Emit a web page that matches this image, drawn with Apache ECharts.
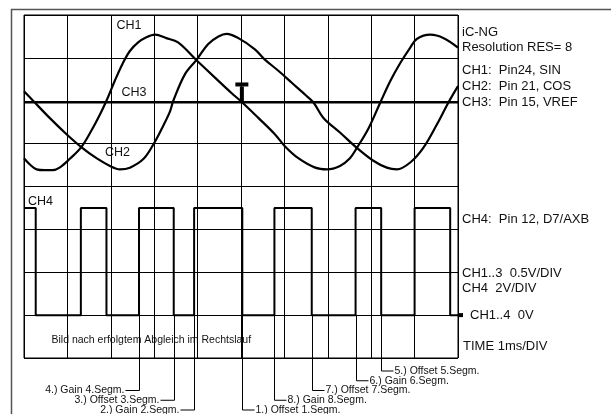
<!DOCTYPE html>
<html>
<head>
<meta charset="utf-8">
<script src="https://cdn.jsdelivr.net/npm/echarts@6/dist/echarts.min.js"></script>
<style>
  html, body { margin: 0; padding: 0; background: #fff; }
  #scope { width: 611px; height: 414px; }
</style>
</head>
<body>
<div id="scope"></div>
<script>
// Time base: ms (1 ms/DIV). CH1..CH3 in volts (0.5 V/DIV), CH4 in volts (2 V/DIV).
const ch1Time = [0.00, 0.13, 0.29, 0.48, 0.66, 0.82, 1.05, 1.32, 1.55, 1.75, 1.90, 2.09, 2.28, 2.44, 2.63, 2.82, 3.02, 3.28, 3.55, 3.98, 4.40, 4.78, 5.03, 5.40, 5.78, 6.01, 6.32, 6.71, 6.98, 7.28, 7.51, 7.67, 7.94, 8.21, 8.44, 8.67, 8.90, 9.05, 9.36, 9.67, 10.00];
const ch1Volt = [1.83, 1.76, 1.70, 1.69, 1.69, 1.72, 1.82, 1.96, 2.15, 2.34, 2.50, 2.73, 2.94, 3.08, 3.18, 3.24, 3.27, 3.23, 3.18, 2.97, 2.77, 2.59, 2.48, 2.30, 2.11, 1.97, 1.83, 1.72, 1.70, 1.74, 1.83, 1.95, 2.18, 2.48, 2.73, 2.94, 3.12, 3.22, 3.27, 3.23, 3.12];

const ch2Time = [0.00, 0.21, 0.59, 0.98, 1.32, 1.67, 1.98, 2.21, 2.44, 2.75, 2.98, 3.17, 3.36, 3.44, 3.71, 3.98, 4.24, 4.48, 4.67, 4.94, 5.32, 5.55, 5.86, 6.17, 6.48, 6.67, 6.90, 7.28, 7.67, 8.05, 8.36, 8.59, 8.90, 9.20, 9.51, 9.78, 10.00];
const ch2Volt = [2.61, 2.50, 2.30, 2.11, 1.96, 1.83, 1.74, 1.70, 1.72, 1.82, 1.99, 2.17, 2.37, 2.50, 2.81, 2.98, 3.16, 3.25, 3.28, 3.23, 3.10, 2.98, 2.85, 2.71, 2.57, 2.48, 2.30, 2.13, 1.95, 1.80, 1.72, 1.70, 1.78, 1.95, 2.22, 2.48, 2.67];

const ch3Time = [0.00, 2.50, 5.00, 7.50, 10.00];
const ch3Volt = [2.48, 2.48, 2.48, 2.48, 2.48];

// CH4 digital output: switching instants (ms), starting high
const ch4Edges = [0.27, 1.31, 1.90, 2.65, 3.45, 3.92, 5.03, 5.77, 6.63, 7.64, 8.23, 9.00, 9.82];
const ch4High = 5.0;
const ch4Low = 0.0;

// Trigger point (time, level of CH1..3)
const trigger = [5.02, 2.48];

// Segment calibration notes attached to CH4 edges (edge index -> text)
const segEdge  = [3, 4, 5, 6, 7, 8, 9, 10];
const segText  = ['4.) Gain 4.Segm.', '3.) Offset 3.Segm.', '2.) Gain 2.Segm.', '1.) Offset 1.Segm.',
                  '8.) Gain 8.Segm.', '7.) Offset 7.Segm.', '6.) Gain 6.Segm.', '5.) Offset 5.Segm.'];
const segRow   = [2, 3, 4, 4, 3, 2, 1, 0];
const segSide  = ['left', 'left', 'left', 'right', 'right', 'right', 'right', 'right'];

const infoLines = ['iC-NG', 'Resolution RES= 8', 'CH1:  Pin24, SIN', 'CH2:  Pin 21, COS', 'CH3:  Pin 15, VREF'];
const scaleLines = ['CH4:  Pin 12, D7/AXB', 'CH1..3  0.5V/DIV', 'CH4  2V/DIV'];

const FONT = '"Liberation Sans", Arial, Helvetica, sans-serif';
const CH4_SCALE = 0.5 / 2; // 2 V/DIV drawn on the 0.5 V/DIV scale

function pairs(t, v, k) { return t.map((x, i) => [x, v[i] * (k || 1)]); }

function ch4Data() {
  const pts = [];
  let level = ch4High;
  pts.push([0, level * CH4_SCALE]);
  ch4Edges.forEach(t => {
    pts.push([t, level * CH4_SCALE]);
    level = level === ch4High ? ch4Low : ch4High;
    pts.push([t, level * CH4_SCALE]);
  });
  pts.push([10, level * CH4_SCALE]);
  return pts;
}

const trace = { type: 'line', showSymbol: false, symbol: 'none', silent: true,
                lineStyle: { color: '#000', width: 2.2 } };

const chart = echarts.init(document.getElementById('scope'), null, { renderer: 'canvas' });
chart.setOption({
  animation: false,
  backgroundColor: '#fff',
  grid: { left: 24, top: 15, width: 434, height: 343, show: true, borderColor: '#000', borderWidth: 1 },
  xAxis: {
    type: 'value', min: 0, max: 10, interval: 1,
    axisLine: { show: false }, axisTick: { show: false }, axisLabel: { show: false },
    splitLine: { show: true, lineStyle: { color: '#000', width: 1 } }
  },
  yAxis: {
    type: 'value', min: -0.5, max: 3.5, interval: 0.5,
    axisLine: { show: false }, axisTick: { show: false }, axisLabel: { show: false },
    splitLine: { show: true, lineStyle: { color: '#000', width: 1 } }
  },
  series: [
    Object.assign({}, trace, { name: 'CH1', smooth: 0.35, data: pairs(ch1Time, ch1Volt) }),
    Object.assign({}, trace, { name: 'CH2', smooth: 0.35, data: pairs(ch2Time, ch2Volt) }),
    Object.assign({}, trace, { name: 'CH3', data: pairs(ch3Time, ch3Volt) }),
    Object.assign({}, trace, { name: 'CH4', data: ch4Data(), lineStyle: { color: '#000', width: 2 } })
  ]
});

// Overlay: frame, channel tags, trigger mark, settings and segment notes
const g = [];
const txt = (x, y, s, size, align) => g.push({
  type: 'text', x: x, y: y, silent: true,
  style: { text: s, fill: '#111', font: size + 'px ' + FONT, textAlign: align || 'left', textVerticalAlign: 'middle' }
});

g.push({ type: 'line', silent: true, shape: { x1: 11, y1: 9.5, x2: 611, y2: 9.5 }, style: { stroke: '#555', lineWidth: 1.5 } });
g.push({ type: 'line', silent: true, shape: { x1: 11.5, y1: 9, x2: 11.5, y2: 414 }, style: { stroke: '#555', lineWidth: 1.5 } });

txt(116.5, 25.5, 'CH1', 12.5);
txt(121.5, 93, 'CH3', 12.5);
txt(105, 153, 'CH2', 12.5);
txt(28, 202, 'CH4', 12.5);

const infoY = [32, 47, 70, 86, 102];
infoLines.forEach((s, i) => txt(462, infoY[i], s, 13));
const scaleY = [219, 273.5, 288.5];
scaleLines.forEach((s, i) => txt(462, scaleY[i], s, 13));
txt(470, 315.5, 'CH1..4  0V', 13);
txt(463, 346.5, 'TIME 1ms/DIV', 13);
txt(51.5, 340, 'Bild nach erfolgtem Abgleich im Rechtslauf', 10.5);

// trigger "T"
const tp = chart.convertToPixel({ gridIndex: 0 }, trigger);
g.push({ type: 'rect', silent: true, shape: { x: tp[0] - 2, y: tp[1] - 16, width: 4, height: 16 }, style: { fill: '#000' } });
g.push({ type: 'rect', silent: true, shape: { x: tp[0] - 6.5, y: tp[1] - 20, width: 13, height: 4 }, style: { fill: '#000' } });

// 0 V marker at the right of the screen
const zeroY = chart.convertToPixel({ yAxisIndex: 0 }, ch4Low * CH4_SCALE);
const rightX = chart.convertToPixel({ xAxisIndex: 0 }, 10);
g.push({ type: 'rect', silent: true, shape: { x: rightX + 1, y: zeroY - 2, width: 4, height: 4 }, style: { fill: '#000' } });

// leader lines from CH4 edges to segment notes
const rowY0 = 371, rowStep = 9.75;
segEdge.forEach((ei, k) => {
  const x = Math.round(chart.convertToPixel({ xAxisIndex: 0 }, ch4Edges[ei])) + 0.5;
  const y = rowY0 + segRow[k] * rowStep;
  const left = segSide[k] === 'left';
  const x2 = left ? x - 14 : x + 12;
  g.push({ type: 'polyline', silent: true, shape: { points: [[x, zeroY], [x, y], [x2, y]] },
           style: { stroke: '#000', lineWidth: 1, fill: null } });
  txt(left ? x2 - 1 : x2 + 1, y, segText[k], 10.5, left ? 'right' : 'left');
});

chart.setOption({ graphic: g });
</script>
</body>
</html>
